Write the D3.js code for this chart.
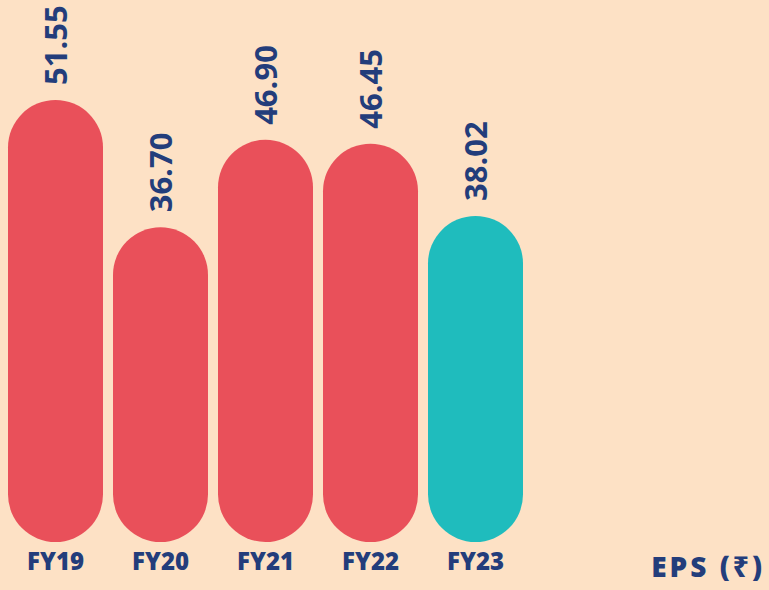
<!DOCTYPE html>
<html><head><meta charset="utf-8">
<script src="https://cdn.jsdelivr.net/npm/d3@7"></script>
<style>html,body{margin:0;padding:0;background:#fde1c5;}svg{display:block;}</style>
</head><body><div id="chart"></div>
<script>
const categories = ["FY19","FY20","FY21","FY22","FY23"];
const values = [51.55, 36.70, 46.90, 46.45, 38.02];
const valueLabels = ["51.55","36.70","46.90","46.45","38.02"];
const barColors = ["#e9505a","#e9505a","#e9505a","#e9505a","#1fbcbd"];
const axisTitle = "EPS (₹)";

const W = 769, H = 590;
const navy = "#233d7b";
const svg = d3.select("#chart").append("svg").attr("width", W).attr("height", H);
svg.append("rect").attr("width", W).attr("height", H).attr("fill", "#fde1c5");

const x = d3.scaleBand().domain(categories).range([8, 523]).paddingInner(10/105).paddingOuter(0);
const y = d3.scaleLinear().domain([0, 51.55]).range([542, 100]);

const bw = x.bandwidth();
svg.selectAll("rect.bar").data(categories).enter().append("rect")
  .attr("class","bar")
  .attr("x", d => x(d))
  .attr("y", (d,i) => y(values[i]))
  .attr("width", bw)
  .attr("height", (d,i) => y(0) - y(values[i]))
  .attr("rx", bw/2).attr("ry", bw/2)
  .attr("fill", (d,i) => barColors[i]);

svg.selectAll("text.val").data(categories).enter().append("text")
  .attr("class","val")
  .attr("transform", (d,i) => `translate(${x(d)+bw/2+11.5},${y(values[i])-15}) rotate(-90)`)
  .attr("font-family","'Open Sans', sans-serif").attr("font-weight",700).attr("font-size",31)
  .attr("fill", navy)
  .text((d,i) => valueLabels[i]);

const xAxis = d3.axisBottom(x).tickSize(0).tickPadding(0);
const gx = svg.append("g").attr("transform","translate(0,553)").call(xAxis);
gx.select(".domain").remove();
gx.selectAll("text").attr("font-family","'Open Sans', sans-serif").attr("font-weight",800)
  .attr("font-size",24).attr("fill",navy).attr("dy","0.71em");

svg.append("text").attr("x",765).attr("y",577).attr("text-anchor","end")
  .attr("font-family","'Open Sans','Noto Sans', sans-serif").attr("font-weight",800).attr("font-size",28)
  .attr("letter-spacing",3).attr("fill",navy).text(axisTitle);
</script></body></html>
